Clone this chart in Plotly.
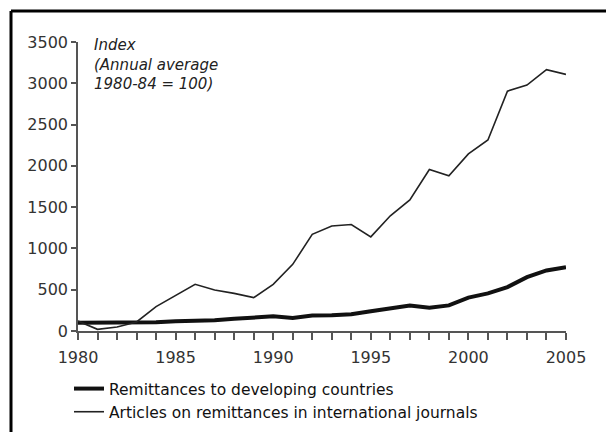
import plotly.graph_objects as go

years = list(range(1980, 2006))
remittances = [100, 100, 100, 100, 105, 118, 122, 130, 147, 160, 178, 158, 188, 190, 202, 240, 274, 310, 283, 310, 404, 455, 532, 652, 733, 773]
articles = [121, 20, 48, 109, 295, 432, 565, 497, 456, 404, 565, 807, 1170, 1272, 1290, 1140, 1395, 1587, 1955, 1880, 2144, 2313, 2905, 2978, 3165, 3108]

x_ticks = [1980, 1985, 1990, 1995, 2000, 2005]
y_ticks = [0, 500, 1000, 1500, 2000, 2500, 3000, 3500]

W, H = 606, 432
ML, MR, MT, MB = 78, 40, 42, 101
PW, PH = W - ML - MR, H - MT - MB

def px_x(p):
    return (p - ML) / PW

def px_y(p):
    return (H - MB - p) / PH

fig = go.Figure()
fig.add_trace(go.Scatter(x=years, y=remittances, mode="lines",
                         name="Remittances to developing countries",
                         line=dict(color="#111111", width=4)))
fig.add_trace(go.Scatter(x=years, y=articles, mode="lines",
                         name="Articles on remittances in international journals",
                         line=dict(color="#222222", width=1.6)))

axis_col = "#555555"
fig.update_layout(
    width=W, height=H,
    margin=dict(l=ML, r=MR, t=MT, b=MB, pad=0, autoexpand=False),
    paper_bgcolor="white", plot_bgcolor="white",
    font=dict(family="DejaVu Sans", size=16, color="#222222"),
    showlegend=True,
    legend=dict(x=px_x(69), y=px_y(372), xanchor="left", yanchor="top",
                font=dict(size=15.5, color="#111111"), bgcolor="rgba(0,0,0,0)",
                tracegroupgap=0, itemwidth=30),
    xaxis=dict(range=[1980, 2005], tickvals=x_ticks, ticks="outside", ticklen=7,
               tickcolor=axis_col, tickwidth=1.5, showline=True, linecolor=axis_col,
               linewidth=1.5, showgrid=False, zeroline=False, automargin=False,
               ticklabelstandoff=4,
               minor=dict(dtick=1, tick0=1980, ticks="outside", ticklen=7,
                          tickcolor=axis_col, tickwidth=1.5, showgrid=False),
               tickfont=dict(size=16, color="#333333")),
    yaxis=dict(range=[0, 3500], tickvals=y_ticks, ticks="outside", ticklen=5,
               tickcolor=axis_col, tickwidth=1.5, showline=True, linecolor=axis_col,
               linewidth=1.5, showgrid=False, zeroline=False, automargin=False,
               tickfont=dict(size=16, color="#333333")),
    annotations=[dict(xref="paper", yref="paper", x=px_x(92), y=px_y(34),
                      xanchor="left", yanchor="top", align="left", showarrow=False,
                      text="<i>Index<br>(Annual average<br>1980-84 = 100)</i>",
                      font=dict(size=15, color="#222222"))],
    shapes=[
        dict(type="line", xref="paper", yref="paper", x0=px_x(11), x1=px_x(620),
             y0=px_y(11), y1=px_y(11), line=dict(color="black", width=3)),
        dict(type="line", xref="paper", yref="paper", x0=px_x(11), x1=px_x(11),
             y0=px_y(11), y1=px_y(440), line=dict(color="black", width=3)),
    ],
)

fig.write_html("out.html", config={"displayModeBar": False},
               post_script="document.body.style.margin='0';document.body.style.padding='0';document.body.style.overflow='hidden';")
